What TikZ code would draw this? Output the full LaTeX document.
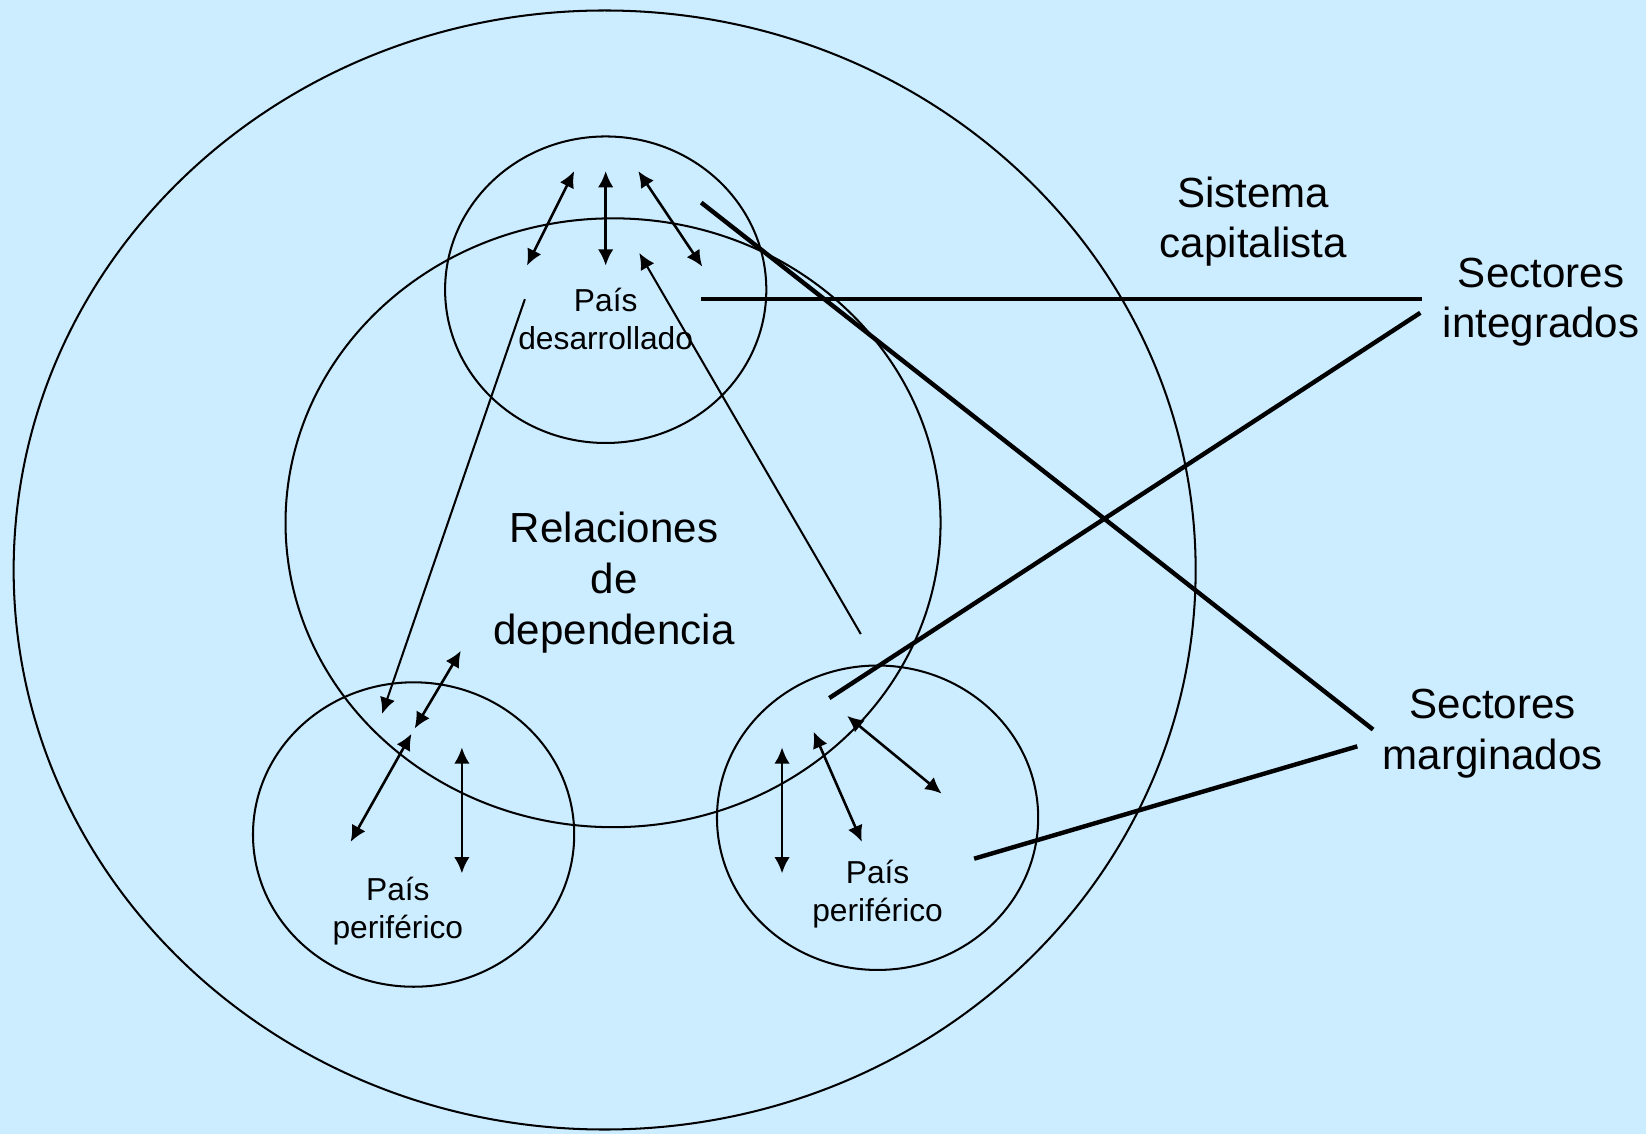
\documentclass[tikz,border=0pt]{standalone}
\usepackage{fontspec}
\setmainfont{Liberation Sans}
\usetikzlibrary{arrows.meta}
\definecolor{slidebg}{RGB}{204,236,255}
\def\tipl{4.4pt}
\def\tipw{4.2pt}

\begin{document}
\begin{tikzpicture}[x=0.01cm,y=-0.01cm,line width=0.55pt]
    \tikzstyle{region}=[draw=black, line width=0.55pt]
    \tikzstyle{big label}=[align=center, inner sep=0pt, font=\fontsize{11.4}{13.7}\selectfont]
    \tikzstyle{small label}=[align=center, inner sep=0pt, font=\fontsize{8.6}{10.4}\selectfont]
    \tikzstyle{link}=[line width=0.7pt, {Latex[length=\tipl,width=\tipw]}-{Latex[length=\tipl,width=\tipw]}]
    \tikzstyle{one way}=[line width=0.55pt, -{Latex[length=\tipl,width=\tipw]}]
    \tikzstyle{sector line}=[line width=1.2pt]

    % Background of the slide
    \fill[slidebg] (0,0) rectangle (1568,1080);

    % Draw the regions
    \draw[region] (576,543) ellipse [x radius=563, y radius=533];
    \draw[region] (584,498) ellipse [x radius=312, y radius=290];
    \draw[region] (577,276) ellipse [x radius=153, y radius=146];
    \draw[region] (394,795) ellipse [x radius=153, y radius=145];
    \draw[region] (836,779) ellipse [x radius=153, y radius=145];

    % Labels
    \node[big label] (sistema) at (1194,211) {Sistema\\capitalista};
    \node[big label] (integrados) at (1468,288) {Sectores\\integrados};
    \node[big label] (marginados) at (1422,699) {Sectores\\marginados};
    \node[big label] (relaciones) at (585,555) {Relaciones\\de\\dependencia};
    \node[small label] (desarrollado) at (577,304) {País\\desarrollado};
    \node[small label] (periferico-L) at (379,868) {País\\periférico};
    \node[small label] (periferico-R) at (836,852) {País\\periférico};

    % End points of the arrows
    \foreach \name / \x / \y in {a1/547/163, a2/502/253, b1/577/163, b2/577/253,
                                 c1/608/163, c2/669/254, d1/820/604, d2/609/241,
                                 e1/500/285, e2/364/680, f1/439/620, f2/395/694,
                                 g1/392/699, g2/334/802, h1/440/712, h2/440/832,
                                 i1/745/712, i2/745/832, j1/775/697, j2/821/802,
                                 k1/807/682, k2/897/756}
        \coordinate (\name) at (\x,\y);

    % End points of the sector lines
    \foreach \name / \x / \y in {s1/668/193, s2/1308/695, s3/668/285, s4/1355/285,
                                 s5/790/665, s6/1353/298, s7/928/818, s8/1293/711}
        \coordinate (\name) at (\x,\y);

    % Exchanges inside each country
    \foreach \from / \to in {a1/a2, b1/b2, c1/c2, f1/f2, g1/g2, h1/h2, i1/i2, j1/j2, k1/k2}
        \draw[link] (\from) -- (\to);

    % Relations between the countries
    \draw[one way] (d1) -- (d2);
    \draw[one way] (e1) -- (e2);

    % Connect the sectors to the countries
    \foreach \from / \to in {s1/s2, s3/s4, s5/s6, s7/s8}
        \draw[sector line] (\from) -- (\to);
\end{tikzpicture}
\end{document}
